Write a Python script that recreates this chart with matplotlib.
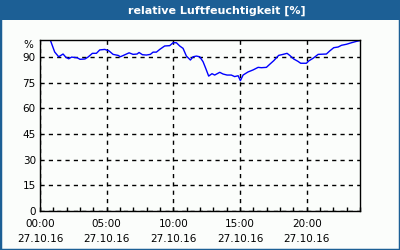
import numpy as np
import matplotlib.pyplot as plt
from matplotlib.patches import Rectangle

title = "relative Luftfeuchtigkeit [%]"
hours = [0.0, 0.78, 1.1, 1.4, 1.73, 1.93, 2.15, 2.37, 2.8, 3.0, 3.37, 3.6, 3.93, 4.23,
         4.48, 4.86, 5.18, 5.48, 5.86, 6.03, 6.43, 6.68, 6.98, 7.28, 7.43, 7.68, 7.98,
         8.28, 8.48, 8.73, 8.98, 9.35, 9.73, 9.98, 10.23, 10.48, 10.73, 10.98, 11.28,
         11.48, 11.73, 11.98, 12.23, 12.43, 12.65, 12.9, 13.1, 13.48, 13.73, 14.03,
         14.35, 14.6, 14.86, 15.03, 15.23, 15.6, 15.98, 16.36, 16.6, 16.98, 17.23,
         17.53, 17.9, 18.23, 18.53, 18.73, 19.03, 19.35, 19.55, 19.98, 20.18, 20.48,
         20.86, 21.48, 21.73, 22.03, 22.36, 22.61, 22.98, 23.36, 23.73, 23.98]
humidity = [99.8, 99.8, 93.0, 90.2, 91.8, 90.0, 89.0, 90.0, 89.6, 88.7, 88.9, 90.0, 92.2, 92.2,
            94.2, 94.5, 93.6, 91.6, 91.0, 90.2, 91.6, 92.5, 91.6, 91.8, 92.7, 91.4, 91.2,
            91.6, 92.9, 92.9, 94.5, 96.5, 96.7, 98.4, 98.4, 96.5, 95.1, 90.6, 88.3,
            90.2, 90.6, 90.2, 87.3, 83.4, 78.9, 80.3, 79.5, 81.1, 80.1, 79.5,
            79.5, 78.6, 79.1, 76.2, 79.5, 81.3, 82.5, 84.0, 83.8, 84.0, 85.8,
            87.9, 91.0, 91.6, 92.2, 91.0, 88.9, 87.5, 86.4, 86.4, 87.9, 89.3,
            91.6, 91.8, 93.6, 95.5, 95.9, 96.9, 97.5, 98.4, 99.2, 99.6]
yticks = [0, 15, 30, 45, 60, 75, 90]
xticks = [0, 5, 10, 15, 20]
xlabels = ["00:00\n27.10.16", "05:00\n27.10.16", "10:00\n27.10.16",
           "15:00\n27.10.16", "20:00\n27.10.16"]

frame = "#1c5f95"
bg = "#fbfdfb"

fig = plt.figure(figsize=(4, 2.5), dpi=100)
fig.patch.set_facecolor(bg)
# blue frame and title bar
fig.patches.append(Rectangle((0, 0), 1, 1, transform=fig.transFigure, fill=False,
                             edgecolor=frame, linewidth=2.5))
fig.patches.append(Rectangle((0, 1 - 20 / 250), 1, 20 / 250, transform=fig.transFigure,
                             facecolor=frame, edgecolor="none"))
fig.text(217 / 400, 1 - 10.5 / 250, title, color="white", fontsize=8, fontweight="bold",
         ha="center", va="center")

ax = fig.add_axes([40 / 400, 39 / 250, 320 / 400, 171 / 250])
ax.set_facecolor(bg)
ax.plot(hours, humidity, color="#0000ff", linewidth=1)
ax.set_xlim(0, 24)
ax.set_ylim(0, 100)
ax.set_yticks(yticks)
ax.set_xticks(xticks)
ax.set_xticklabels(xlabels, fontsize=7.5, linespacing=1.6)
ax.set_yticklabels([str(v) for v in yticks], fontsize=7.5)
ax.set_xticks(range(25), minor=True)
ax.tick_params(axis="x", which="both", direction="in", length=3, width=1, pad=6)
ax.tick_params(axis="y", length=0, pad=3)
ax.grid(True, color="black", linestyle=(0, (3, 3)), linewidth=1)
for s in ax.spines.values():
    s.set_linewidth(1)
ax.text(-0.02, 97, "%", transform=ax.get_yaxis_transform(), ha="right", va="center",
        fontsize=7.5)

fig.savefig("out.png", dpi=100, facecolor=bg)
